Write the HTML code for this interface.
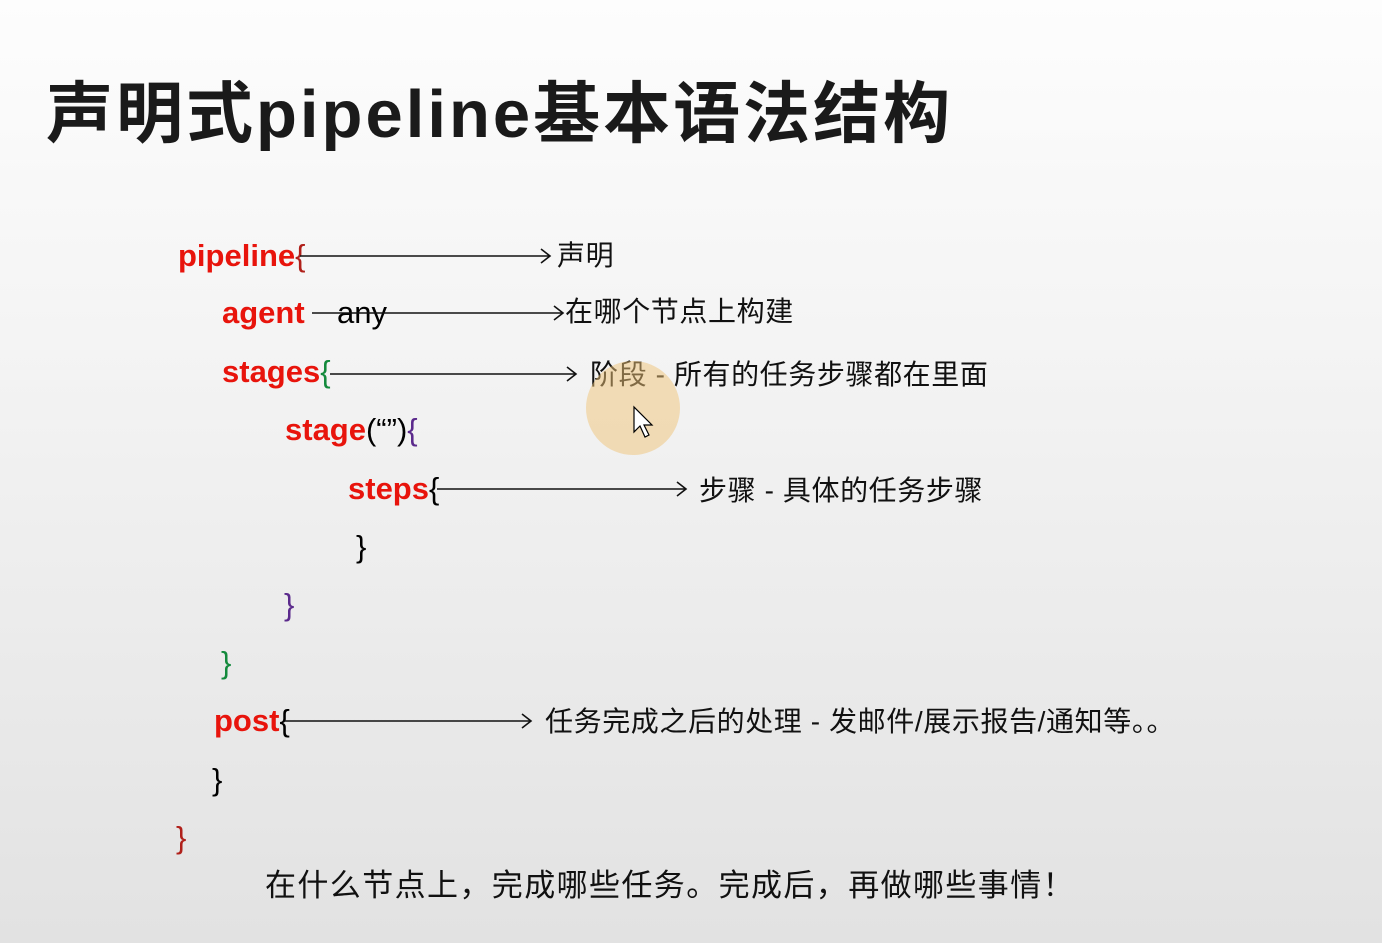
<!DOCTYPE html>
<html><head><meta charset="utf-8"><style>
html,body{margin:0;padding:0}
body{width:1382px;height:943px;position:relative;overflow:hidden;background:linear-gradient(#fdfdfd 0%,#f3f3f3 40%,#e2e2e2 100%);font-family:"Liberation Sans","Noto Sans CJK SC",sans-serif}
.t{position:absolute;white-space:nowrap}
.title{left:46px;top:70px;font-size:67px;font-weight:bold;color:#1a1a1a;letter-spacing:3px;line-height:90px}
.c{font-size:31px;line-height:40px;color:#000}
.r{color:#e8140c;font-weight:bold}
.g{color:#138a3c}.p{color:#5b2a8c}.dr{color:#b0201a}
.l{font-size:28px;line-height:40px;color:#111;letter-spacing:0.6px}
</style></head><body>
<div class="t title">声明式pipeline基本语法结构</div>
<div class="t c" style="left:178px;top:236px"><span class="r">pipeline</span><span class="dr">{</span></div>
<div class="t c" style="left:222px;top:293px"><span class="r">agent</span></div>
<div class="t c" style="left:337px;top:293px">any</div>
<div class="t c" style="left:222px;top:352px"><span class="r">stages</span><span class="g">{</span></div>
<div class="t c" style="left:285px;top:410px"><span class="r">stage</span>(“”)<span class="p">{</span></div>
<div class="t c" style="left:348px;top:469px"><span class="r">steps</span>{</div>
<div class="t c" style="left:356px;top:527px">}</div>
<div class="t c p" style="left:284px;top:585px">}</div>
<div class="t c g" style="left:221px;top:643px">}</div>
<div class="t c" style="left:214px;top:701px"><span class="r">post</span>{</div>
<div class="t c" style="left:212px;top:760px">}</div>
<div class="t c dr" style="left:176px;top:818px">}</div>
<div class="t l" style="left:557px;top:236px">声明</div>
<div class="t l" style="left:565px;top:292px">在哪个节点上构建</div>
<div class="t l" style="left:590px;top:355px">阶段 - 所有的任务步骤都在里面</div>
<div class="t l" style="left:699px;top:471px">步骤 - 具体的任务步骤</div>
<div class="t l" style="left:545px;top:702px">任务完成之后的处理 - 发邮件/展示报告/通知等。。</div>
<div class="t" style="left:265px;top:866px;font-size:31px;line-height:40px;color:#111;letter-spacing:1.4px">在什么节点上，完成哪些任务。完成后，再做哪些事情！</div>
<svg class="t" style="left:0;top:0" width="1382" height="943">
<g stroke="#111" stroke-width="1.6" fill="none">
<path d="M300 256H550M541 249L550 256L541 263"/>
<path d="M312 313H563M554 306L563 313L554 320"/>
<path d="M330 374H576M567 367L576 374L567 381"/>
<path d="M437 489H686M677 482L686 489L677 496"/>
<path d="M285 721H531M522 714L531 721L522 728"/>
</g>
<circle cx="633" cy="408" r="47" fill="rgba(240,195,120,0.5)"/>
<path d="M634 407L634 432L640 426L645 437L649 435L644 425L652 425Z" fill="#fff" stroke="#000" stroke-width="1.2"/>
</svg>
</body></html>
